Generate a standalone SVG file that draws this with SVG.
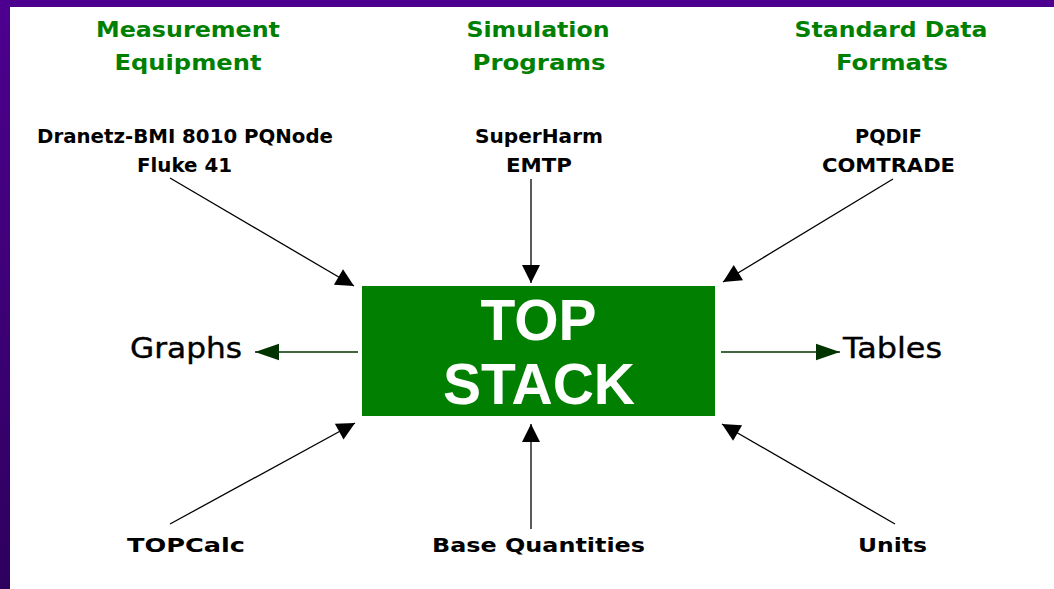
<svg xmlns="http://www.w3.org/2000/svg" width="1054" height="589" viewBox="0 0 1054 589">
  <style>
    .head { font-family: "DejaVu Sans", Verdana, sans-serif; font-weight: bold; font-size: 21px; fill: #008000; text-anchor: middle; }
    .lbl { font-family: "DejaVu Sans", Verdana, sans-serif; font-weight: bold; font-size: 20px; fill: #000; }
    .big { font-family: "DejaVu Sans", Verdana, sans-serif; font-size: 28px; fill: #000; stroke: #000; stroke-width: 0.4; }
    .core { font-family: "Liberation Sans", Arial, sans-serif; font-weight: bold; font-size: 57px; fill: #fff; text-anchor: middle; }
    .blk { stroke: #000; stroke-width: 1.3; fill: none; marker-end: url(#ah); }
    .grn { stroke: #003300; stroke-width: 1.5; fill: none; marker-end: url(#ahg); }
  </style>
  <defs>
    <linearGradient id="bg" x1="0" y1="0" x2="0" y2="1">
      <stop offset="0" stop-color="#4d0090"/>
      <stop offset="1" stop-color="#2e005e"/>
    </linearGradient>
    <marker id="ah" markerUnits="userSpaceOnUse" markerWidth="20" markerHeight="20" viewBox="0 -10 18 20" refX="18" refY="0" orient="auto">
      <path d="M0,-9 L18,0 L0,9 Z" fill="#000"/>
    </marker>
    <marker id="ahg" markerUnits="userSpaceOnUse" markerWidth="24" markerHeight="20" viewBox="0 -9 23 18" refX="23" refY="0" orient="auto">
      <path d="M0,-8 L23,0 L0,8 Z" fill="#003300"/>
    </marker>
  </defs>

  <rect x="0" y="0" width="1054" height="589" fill="url(#bg)"/>
  <rect x="10" y="7" width="1044" height="582" fill="#fff"/>

  <g id="heading-measurement">
    <text class="head" x="188" y="37" textLength="184" lengthAdjust="spacingAndGlyphs">Measurement</text>
    <text class="head" x="188" y="70" textLength="147" lengthAdjust="spacingAndGlyphs">Equipment</text>
  </g>
  <g id="heading-simulation">
    <text class="head" x="538" y="37" textLength="143" lengthAdjust="spacingAndGlyphs">Simulation</text>
    <text class="head" x="539" y="70" textLength="133" lengthAdjust="spacingAndGlyphs">Programs</text>
  </g>
  <g id="heading-formats">
    <text class="head" x="891" y="37" textLength="193" lengthAdjust="spacingAndGlyphs">Standard Data</text>
    <text class="head" x="892" y="70" textLength="112" lengthAdjust="spacingAndGlyphs">Formats</text>
  </g>

  <g id="node-measurement">
    <text class="lbl" x="37" y="143" textLength="296" lengthAdjust="spacingAndGlyphs">Dranetz-BMI 8010 PQNode</text>
    <text class="lbl" x="137" y="172" textLength="95" lengthAdjust="spacingAndGlyphs">Fluke 41</text>
  </g>
  <g id="node-simulation">
    <text class="lbl" x="475" y="143" textLength="128" lengthAdjust="spacingAndGlyphs">SuperHarm</text>
    <text class="lbl" x="506" y="172" textLength="66" lengthAdjust="spacingAndGlyphs">EMTP</text>
  </g>
  <g id="node-formats">
    <text class="lbl" x="855" y="143" textLength="67" lengthAdjust="spacingAndGlyphs">PQDIF</text>
    <text class="lbl" x="822" y="172" textLength="133" lengthAdjust="spacingAndGlyphs">COMTRADE</text>
  </g>

  <g id="node-topstack">
    <rect x="362" y="286" width="353" height="130" fill="#007f00"/>
    <text class="core" x="538.5" y="340">TOP</text>
    <text class="core" x="539" y="404">STACK</text>
  </g>

  <g id="node-graphs">
    <text class="big" x="130" y="358" textLength="112" lengthAdjust="spacingAndGlyphs">Graphs</text>
  </g>
  <g id="node-tables">
    <text class="big" x="843" y="358" textLength="99" lengthAdjust="spacingAndGlyphs">Tables</text>
  </g>

  <g id="node-topcalc">
    <text class="lbl" x="127" y="552" textLength="118" lengthAdjust="spacingAndGlyphs">TOPCalc</text>
  </g>
  <g id="node-base">
    <text class="lbl" x="432" y="552" textLength="213" lengthAdjust="spacingAndGlyphs">Base Quantities</text>
  </g>
  <g id="node-units">
    <text class="lbl" x="858" y="552" textLength="69" lengthAdjust="spacingAndGlyphs">Units</text>
  </g>

  <g id="connectors">
    <line class="blk" x1="170" y1="178" x2="354" y2="286"/>
    <line class="blk" x1="531" y1="179" x2="531" y2="283"/>
    <line class="blk" x1="893" y1="179" x2="723" y2="282"/>
    <line class="blk" x1="170" y1="524" x2="355" y2="423"/>
    <line class="blk" x1="531" y1="529" x2="531" y2="424"/>
    <line class="blk" x1="895" y1="524" x2="722" y2="424"/>
    <line class="grn" x1="358" y1="352" x2="255" y2="352"/>
    <line class="grn" x1="721" y1="352" x2="840" y2="352"/>
  </g>
</svg>
